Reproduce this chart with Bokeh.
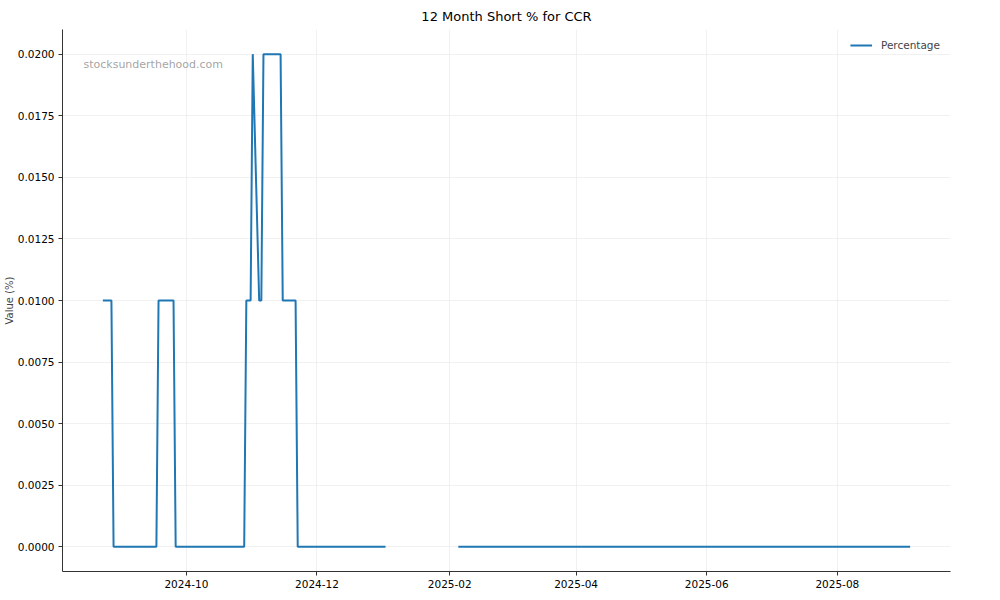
import numpy as np
import pandas as pd
from bokeh.plotting import figure
from bokeh.models import (ColumnDataSource, Range1d, FixedTicker, NumeralTickFormatter,
                          DatetimeTickFormatter, Label)
from bokeh.embed import file_html
from bokeh.resources import INLINE

# ---- data ----
dates = ["2024-08-23", "2024-08-27", "2024-08-28", "2024-09-17", "2024-09-18",
         "2024-09-25", "2024-09-26", "2024-10-28", "2024-10-29", "2024-10-31",
         "2024-11-01", "2024-11-04", "2024-11-05", "2024-11-06", "2024-11-14",
         "2024-11-15", "2024-11-21", "2024-11-22", "2025-01-02", "2025-01-03",
         "2025-02-05", "2025-09-04"]
percentage = [0.01, 0.01, 0.0, 0.0, 0.01,
              0.01, 0.0, 0.0, 0.01, 0.01,
              0.02, 0.01, 0.01, 0.02, 0.02,
              0.01, 0.01, 0.0, 0.0, np.nan,
              0.0, 0.0]
x_tick_labels = ["2024-10", "2024-12", "2025-02", "2025-04", "2025-06", "2025-08"]
y_ticks = [0.0, 0.0025, 0.005, 0.0075, 0.01, 0.0125, 0.015, 0.0175, 0.02]
title = "12 Month Short % for CCR"
series_name = "Percentage"
watermark = "stocksunderthehood.com"
y_label = "Value (%)"

FONT = "DejaVu Sans"
BLUE = "#1f77b4"

x = pd.to_datetime(dates)
y = np.array(percentage, dtype=float)
src = ColumnDataSource(dict(x=x, y=y))

# matplotlib-like 5% margins
x0 = x.min().value / 1e6
x1 = x.max().value / 1e6
xspan = x1 - x0
xstart, xend = x0 - 0.05 * xspan, x1 + 0.05 * xspan
y0, y1 = np.nanmin(y), np.nanmax(y)
yspan = y1 - y0
ystart, yend = y0 - 0.05 * yspan, y1 + 0.05 * yspan

p = figure(width=984, height=590, x_axis_type="datetime",
           output_backend="svg", toolbar_location=None, title=title,
           x_range=Range1d(xstart, xend), y_range=Range1d(ystart, yend),
           min_border_left=0, min_border_right=34, min_border_top=0, min_border_bottom=0)

p.line("x", "y", source=src, line_color=BLUE, line_width=2, legend_label=series_name)

# title
p.title.align = "center"
p.title.text_font = FONT
p.title.text_font_style = "normal"
p.title.text_font_size = "13px"
p.title.text_color = "#000000"
p.title.standoff = 12

# axes
p.outline_line_color = None
for ax in (p.xaxis[0], p.yaxis[0]):
    ax.axis_line_color = "#333333"
    ax.axis_line_width = 1
    ax.major_tick_line_color = "#333333"
    ax.major_tick_out = 4
    ax.major_tick_in = 0
    ax.minor_tick_out = 0
    ax.minor_tick_in = 0
    ax.major_label_text_font = FONT
    ax.major_label_text_font_size = "10.5px"
    ax.major_label_text_color = "#000000"
    ax.major_label_standoff = 4

tick_ms = [pd.Timestamp(t + "-01").value / 1e6 for t in x_tick_labels]
p.xaxis.ticker = FixedTicker(ticks=tick_ms)
p.xaxis.formatter = DatetimeTickFormatter(days="%Y-%m", months="%Y-%m", years="%Y-%m",
                                          hours="%Y-%m", hourmin="%Y-%m")
p.yaxis.ticker = FixedTicker(ticks=y_ticks)
p.yaxis.formatter = NumeralTickFormatter(format="0.0000")
p.yaxis.axis_label = y_label
p.yaxis.axis_label_text_font = FONT
p.yaxis.axis_label_text_font_size = "10px"
p.yaxis.axis_label_text_font_style = "normal"
p.yaxis.axis_label_standoff = 0

# grid
p.grid.grid_line_color = "#e8e8e8"
p.grid.grid_line_alpha = 0.6
p.grid.grid_line_width = 1

# watermark (axes-fraction position)
p.add_layout(Label(x=xstart + 0.0236 * (xend - xstart),
                   y=ystart + 0.935 * (yend - ystart),
                   text=watermark, text_font=FONT, text_font_size="11px",
                   text_color="#999999", text_alpha=0.9, text_baseline="middle"))

# legend
lg = p.legend[0]
lg.location = "top_right"
lg.border_line_alpha = 0
lg.background_fill_alpha = 0
lg.label_text_font = FONT
lg.label_text_font_size = "10.5px"
lg.glyph_width = 22
lg.glyph_height = 10
lg.label_standoff = 9
lg.margin = 2
lg.padding = 8

open("out.html", "w").write(file_html(p, INLINE))
